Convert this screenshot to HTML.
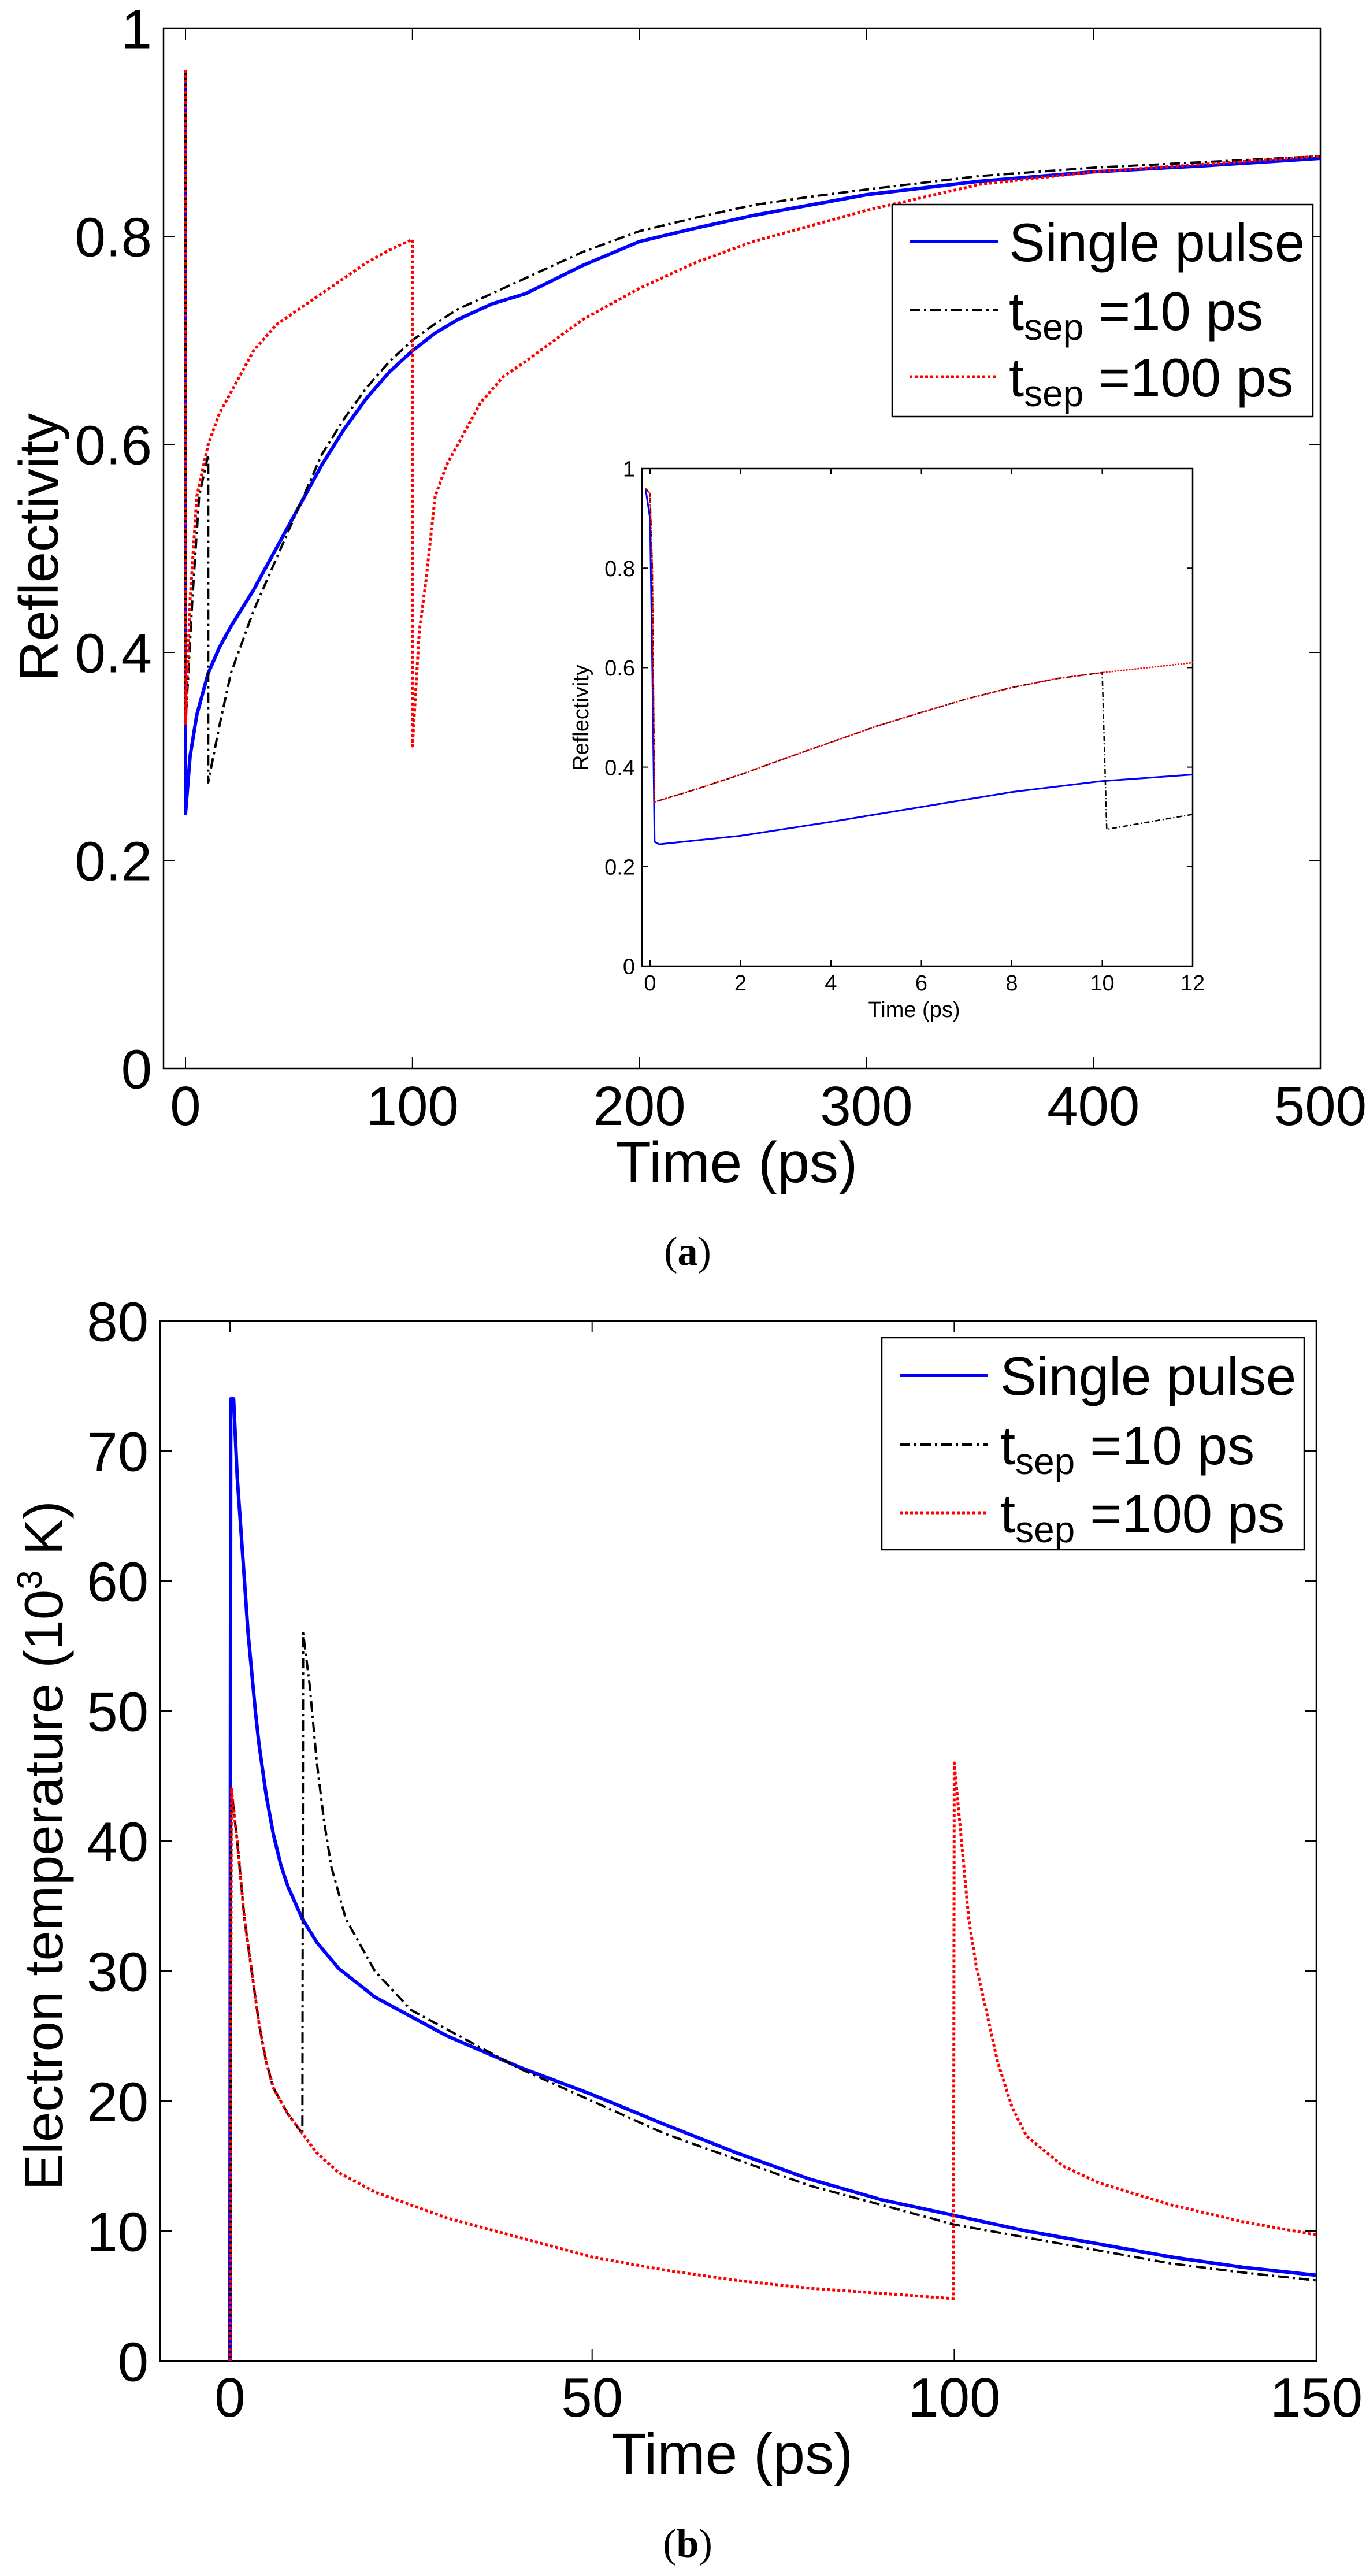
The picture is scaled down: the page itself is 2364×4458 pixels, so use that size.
<!DOCTYPE html>
<html><head><meta charset="utf-8">
<style>
html,body{margin:0;padding:0;background:#fff;}
svg{display:block;}
text{font-family:"Liberation Sans",sans-serif;fill:#000;}
.cap{font-family:"Liberation Serif",serif;}
</style></head>
<body>
<svg id="s" width="2364" height="4458" viewBox="0 0 2364 4458" xmlns="http://www.w3.org/2000/svg">
<rect width="2364" height="4458" fill="#fff"/>
<g id="g"></g>
</svg>
<script>
const NS="http://www.w3.org/2000/svg",G=document.getElementById('g');
function el(t,a,txt){const e=document.createElementNS(NS,t);for(const k in a)e.setAttribute(k,a[k]);if(txt!==undefined)e.textContent=txt;G.appendChild(e);return e;}
function line(x1,y1,x2,y2,w,c){el('line',{x1,y1,x2,y2,stroke:c||'#000','stroke-width':w||2});}
function txt(x,y,s,fs,anchor,extra){const a={x,y,'font-size':fs,'text-anchor':anchor||'middle'};Object.assign(a,extra||{});return el('text',a,s);}
function series(pts,fx,fy,st){let d='';pts.forEach((p,i)=>{d+=(i?'L':'M')+fx(p[0]).toFixed(1)+' '+fy(p[1]).toFixed(1)});const a={d,fill:'none','stroke-linejoin':'round'};Object.assign(a,st);el('path',a);}
const BL={stroke:'#0000ff','stroke-width':6};
const BK={stroke:'#000','stroke-width':4,'stroke-dasharray':'18 7 4 7'};
const RD={stroke:'#ff0000','stroke-width':5,'stroke-dasharray':'5 4'};

function axes(L,R,T,B,xt,yt,fx,fy,tl,xl,yl,fs,xlo,ylo){
  el('rect',{x:L,y:T,width:R-L,height:B-T,fill:'none',stroke:'#000','stroke-width':2.5});
  xt.forEach(v=>{const x=fx(v);line(x,B,x,B-tl);line(x,T,x,T+tl);txt(x,B+xlo,xl?xl(v):String(v),fs);});
  yt.forEach(v=>{const y=fy(v);line(L,y,L+tl,y);line(R,y,R-tl,y);txt(L-ylo,y+fs*0.36,yl?yl(v):String(v),fs,'end');});
}
function cap(x,y,l){const t=txt(x,y,'(',70,'middle',{class:'cap'});
  const b=document.createElementNS(NS,'tspan');b.setAttribute('font-weight','bold');b.textContent=l;t.appendChild(b);
  const c=document.createElementNS(NS,'tspan');c.textContent=')';t.appendChild(c);}

// ===== Panel a =====
let fx=t=>321+t*3.928, fy=r=>1849-r*1800;
axes(283,2285,49,1849,[0,100,200,300,400,500],[0,0.2,0.4,0.6,0.8,1],fx,fy,20,null,v=>String(v),96,98,20);
txt(1275,2046,'Time (ps)',100);
txt(0,0,'Reflectivity',96,'middle',{transform:'translate(100,947) rotate(-90)'});
cap(1190,2189,'a');
const aB=[[0,0.96],[0,0.245],[2,0.3],[5,0.34],[10,0.38],[15,0.405],[20,0.425],[30,0.46],[40,0.5],[50,0.54],[60,0.58],[70,0.615],[80,0.645],[90,0.67],[100,0.69],[110,0.707],[120,0.72],[135,0.735],[150,0.745],[175,0.772],[200,0.795],[225,0.808],[250,0.82],[275,0.83],[300,0.84],[350,0.853],[400,0.862],[450,0.868],[500,0.875]];
const aK=[[0,0.96],[0,0.33],[3,0.45],[6,0.55],[10,0.59],[10,0.275],[15,0.33],[20,0.38],[30,0.44],[40,0.49],[50,0.54],[60,0.59],[70,0.625],[80,0.655],[90,0.68],[100,0.7],[110,0.716],[120,0.73],[135,0.745],[150,0.76],[175,0.785],[200,0.805],[225,0.818],[250,0.83],[275,0.838],[300,0.845],[350,0.858],[400,0.866],[500,0.877]];
const aR=[[0,0.96],[0,0.33],[2,0.45],[5,0.55],[10,0.6],[15,0.63],[20,0.65],[30,0.69],[40,0.715],[50,0.73],[60,0.745],[70,0.76],[80,0.775],[90,0.787],[100,0.797],[100,0.31],[103,0.42],[106,0.47],[110,0.55],[115,0.58],[120,0.6],[130,0.64],[140,0.665],[150,0.68],[175,0.72],[200,0.75],[225,0.775],[250,0.795],[275,0.81],[300,0.825],[350,0.85],[400,0.862],[500,0.877]];
series(aB,fx,fy,BL);series(aK,fx,fy,BK);series(aR,fx,fy,RD);
el('rect',{x:1544,y:354,width:728,height:367,fill:'#fff',stroke:'#000','stroke-width':2.5});
function leg(x1,x2,tx,ys,fs){
  line(x1,ys[0],x2,ys[0],6,'#0000ff');
  el('line',{x1,y1:ys[1],x2,y2:ys[1],stroke:'#000','stroke-width':4,'stroke-dasharray':'18 7 4 7'});
  el('line',{x1,y1:ys[2],x2,y2:ys[2],stroke:'#ff0000','stroke-width':5,'stroke-dasharray':'5 4'});
  txt(tx,ys[0]+fs*0.36,'Single pulse',fs,'start');
  [['=10 ps',1],['=100 ps',2]].forEach(([s,i])=>{const t=txt(tx,ys[i]+fs*0.36,'',fs,'start');
    const a=document.createElementNS(NS,'tspan');a.textContent='t';t.appendChild(a);
    const b=document.createElementNS(NS,'tspan');b.setAttribute('font-size',fs*0.68);b.setAttribute('dy',fs*0.18);b.textContent='sep';t.appendChild(b);
    const c=document.createElementNS(NS,'tspan');c.setAttribute('dy',-fs*0.18);c.textContent=' '+s;t.appendChild(c);});
}
leg(1574,1728,1746,[418,537,652],94);
// inset
let ix=t=>1125+t*78.25, iy=r=>1672-r*861;
el('rect',{x:1111,y:811,width:953,height:861,fill:'#fff',stroke:'none'});
axes(1111,2064,811,1672,[0,2,4,6,8,10,12],[0,0.2,0.4,0.6,0.8,1],ix,iy,10,null,null,38,42,12);
txt(1582,1760,'Time (ps)',38);
txt(0,0,'Reflectivity',38,'middle',{transform:'translate(1018,1242) rotate(-90)'});
const iB=[[-0.1,0.96],[0,0.9],[0.05,0.6],[0.1,0.25],[0.2,0.245],[2,0.262],[4,0.29],[6,0.32],[8,0.35],[10,0.372],[12,0.385]];
const iK=[[-0.1,0.96],[0,0.95],[0.05,0.8],[0.1,0.33],[1,0.355],[2,0.385],[3,0.418],[4,0.45],[5,0.482],[6,0.51],[7,0.537],[8,0.56],[9,0.578],[10,0.59],[10.1,0.275],[12,0.305]];
const iR=[[-0.1,0.96],[0,0.95],[0.05,0.8],[0.1,0.33],[1,0.355],[2,0.385],[3,0.418],[4,0.45],[5,0.482],[6,0.51],[7,0.537],[8,0.56],[9,0.578],[10,0.59],[11,0.6],[12,0.61]];
series(iB,ix,iy,{stroke:'#0000ff','stroke-width':3});
series(iK,ix,iy,{stroke:'#000','stroke-width':2.5,'stroke-dasharray':'9 4 2 4'});
series(iR,ix,iy,{stroke:'#ff0000','stroke-width':2.5,'stroke-dasharray':'3 2'});

// ===== Panel b =====
let bx=t=>398+t*12.534, by=v=>4086-v*22.5;
axes(277,2278,2286,4086,[0,50,100,150],[0,10,20,30,40,50,60,70,80],bx,by,20,null,null,96,96,20);
txt(1267,4281,'Time (ps)',100);
const yl=txt(0,0,'Electron temperature  (10',94,'middle',{transform:'translate(108,3194) rotate(-90)'});
{const s=document.createElementNS(NS,'tspan');s.setAttribute('font-size',60);s.setAttribute('dy',-36);s.textContent='3';yl.appendChild(s);
 const s2=document.createElementNS(NS,'tspan');s2.setAttribute('dy',36);s2.textContent=' K)';yl.appendChild(s2);}
cap(1190,4425,'b');
const bB=[[0,0],[0,8],[0.1,74],[0.5,74],[1,68],[1.5,64],[2,60],[2.5,56],[3,53],[3.5,50],[4,47.5],[5,43.5],[6,40.5],[7,38.2],[8,36.5],[10,34],[12,32.2],[15,30.2],[20,28],[25,26.5],[30,25],[40,22.6],[50,20.5],[60,18.2],[70,16],[80,14],[90,12.4],[100,11.2],[110,10],[120,9],[130,8],[140,7.2],[150,6.6]];
const bK=[[0,0],[0.2,44],[1,40],[2,34],[3,30],[4,26],[5,23],[6,21],[8,19],[10,17.5],[10.1,56],[11,52],[12,46],[13,41.5],[14,38],[16,34],[18,32],[20,30],[25,27],[30,25.5],[40,22.5],[50,20],[60,17.5],[70,15.5],[80,13.5],[90,12],[100,10.5],[110,9.5],[120,8.5],[130,7.5],[140,6.8],[150,6.2]];
const bR=[[0,0],[0.2,44],[1,40],[2,34],[3,30],[4,26],[5,23],[6,21],[8,19],[10,17.5],[12,16],[15,14.5],[20,13],[30,11],[40,9.5],[50,8],[60,7],[70,6.2],[80,5.6],[90,5.2],[99.9,4.8],[100,46],[101,40],[102,34],[103,30.5],[104,28],[106,23],[108,19.5],[110,17.3],[115,15],[120,13.7],[130,12],[140,10.7],[150,9.7]];
series(bB,bx,by,BL);series(bK,bx,by,BK);series(bR,bx,by,RD);
el('rect',{x:1526,y:2315,width:731,height:367,fill:'#fff',stroke:'#000','stroke-width':2.5});
leg(1557,1709,1731,[2380,2500,2618],94);
</script>
</body></html>
